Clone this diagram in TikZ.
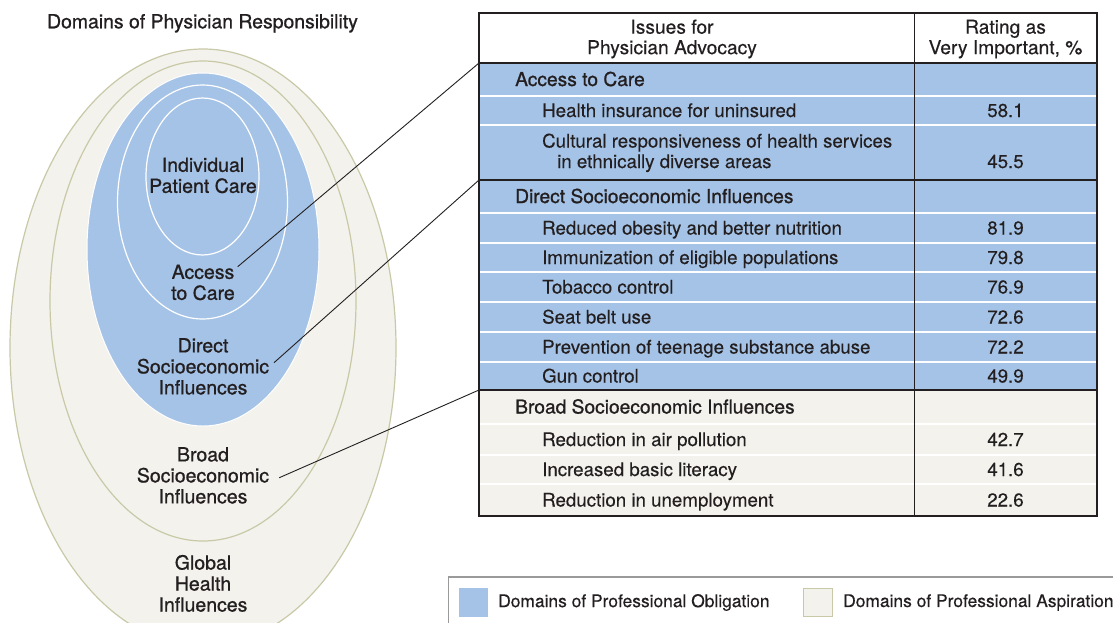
\documentclass[tikz,border=0pt]{standalone}
\usepackage{fontspec}
\setmainfont{TeX Gyre Heros}[FakeBold=0.25]
\newfontfamily\medfont[FakeBold=0.9]{TeX Gyre Heros}
\definecolor{obl}{HTML}{A5C3E6}
\definecolor{asp}{HTML}{F3F2ED}
\definecolor{aspline}{HTML}{C9C9A8}
\definecolor{ink}{HTML}{231F20}
\definecolor{leggray}{HTML}{9A9A9A}
\begin{document}
\begin{tikzpicture}[x=1pt,y=-1pt,
  every node/.style={text=ink, inner sep=0pt},
  lab/.style={font=\fontsize{19.5}{21}\medfont, align=center},
  ttl/.style={font=\fontsize{19.4}{21}\medfont, anchor=base},
  cell/.style={font=\fontsize{18.7}{21}\selectfont, anchor=base west},
  grp/.style={font=\fontsize{19.2}{21}\medfont, anchor=base west},
  num/.style={font=\fontsize{18.7}{21}\selectfont, anchor=base},
  hdr/.style={font=\fontsize{19.2}{20.5}\selectfont, align=center},
  leg/.style={font=\fontsize{17.4}{20}\selectfont, anchor=west},
  leader/.style={draw=ink, line width=0.9pt},
  aspell/.style={fill=asp, draw=aspline, line width=1.2pt},
  whiteline/.style={draw=white, line width=1.2pt},
  sepline/.style={draw=ink, line width=2pt}
]
\useasboundingbox (0,0) rectangle (1113,622);
\clip (0,0) rectangle (1113,622);
\fill[white] (0,0) rectangle (1113,622);

% title
\node[ttl] (title) at (202.5,28.3) {Domains of Physician Responsibility};

% ellipses
\draw[aspell] (203,347.6) ellipse [x radius=193pt, y radius=298.6pt];
\draw[aspell] (203,301) ellipse [x radius=153pt, y radius=240pt];
\draw[fill=obl, draw=white, line width=1pt] (203,249.5) ellipse [x radius=116pt, y radius=176.5pt];
\draw[white, line width=1.2pt] (202.5,202) ellipse [x radius=85pt, y radius=117pt];
\draw[white, line width=1.2pt] (202.5,176.5) ellipse [x radius=56.5pt, y radius=78.5pt];

% ellipse labels
\node[lab] (lind) at (203,175.4) {Individual\\Patient Care};
\node[lab] (lacc) at (203,282.4) {Access\\to Care};
\node[lab] (ldir) at (203,366.4) {Direct\\Socioeconomic\\Influences};
\node[lab] (lbro) at (203,475.4) {Broad\\Socioeconomic\\Influences};
\node[lab] (lglo) at (203,583.4) {Global\\Health\\Influences};

% table backgrounds
\fill[white] (479,13) rectangle (1097,63);
\fill[obl] (479,63) rectangle (1097,390);
\fill[asp] (479,390) rectangle (1097,516);
\foreach \yy in {96,125,213,243,272,302,332,362,424,455,484}
  \draw[whiteline] (479,\yy) -- (1097,\yy);
\draw[ink, line width=1.2pt] (479,63) -- (1097,63);
\draw[sepline] (479,180) -- (1097,180);
\draw[sepline] (479,390) -- (1097,390);
\draw[ink, line width=1pt] (914,13) -- (914,516);
\draw[ink, line width=1.4pt] (479,13) rectangle (1097,516);

% table corner coordinates
\coordinate (tacc) at (479,63);
\coordinate (tdir) at (479,180);
\coordinate (tbro) at (479,390);

% header
\node[hdr] (h1) at (672,39) {Issues for\\Physician Advocacy};
\node[hdr] (h2) at (1005.5,39) {Rating as\\Very Important, \%};

% access to care
\node[grp] (gacc) at (515,86) {Access to Care};
\node[cell] (r1) at (542,117) {Health insurance for uninsured};
\node[num] (n1) at (1005.5,117) {58.1};
\node[cell] (r2a) at (542,147.5) {Cultural responsiveness of health services};
\node[cell] (r2b) at (557,168) {in ethnically diverse areas};
\node[num] (n2) at (1005.5,168) {45.5};

% direct
\node[grp] (gdir) at (515,203) {Direct Socioeconomic Influences};
\node[cell] (r3) at (542,234.5) {Reduced obesity and better nutrition};
\node[num] (n3) at (1005.5,234.5) {81.9};
\node[cell] (r4) at (542,264) {Immunization of eligible populations};
\node[num] (n4) at (1005.5,264) {79.8};
\node[cell] (r5) at (542,293.5) {Tobacco control};
\node[num] (n5) at (1005.5,293.5) {76.9};
\node[cell] (r6) at (542,323.5) {Seat belt use};
\node[num] (n6) at (1005.5,323.5) {72.6};
\node[cell] (r7) at (542,353.5) {Prevention of teenage substance abuse};
\node[num] (n7) at (1005.5,353.5) {72.2};
\node[cell] (r8) at (542,382.5) {Gun control};
\node[num] (n8) at (1005.5,382.5) {49.9};

% broad
\node[grp] (gbro) at (515,413.5) {Broad Socioeconomic Influences};
\node[cell] (r9) at (542,446) {Reduction in air pollution};
\node[num] (n9) at (1005.5,446) {42.7};
\node[cell] (r10) at (542,476) {Increased basic literacy};
\node[num] (n10) at (1005.5,476) {41.6};
\node[cell] (r11) at (542,506.5) {Reduction in unemployment};
\node[num] (n11) at (1005.5,506.5) {22.6};

% leader lines
\coordinate (eacc) at (237.7,266.7);
\coordinate (edir) at (274,362.7);
\coordinate (ebro) at (279.3,477.7);
\draw[leader] (eacc) -- (tacc);
\draw[leader] (edir) -- (tdir);
\draw[leader] (ebro) -- (tbro);

% legend
\draw[leggray, line width=1.8pt] (448,577) -- (1120,577);
\draw[leggray, line width=1pt] (448,577) -- (448,630);
\fill[obl] (459,588) rectangle (488,617);
\draw[fill=asp, draw=aspline, line width=1pt] (803.5,588.5) rectangle (832.5,616.5);
\node[leg] (lg1) at (498,602.5) {Domains of Professional Obligation};
\node[leg] (lg2) at (843,602.5) {Domains of Professional Aspiration};
\end{tikzpicture}
\end{document}
